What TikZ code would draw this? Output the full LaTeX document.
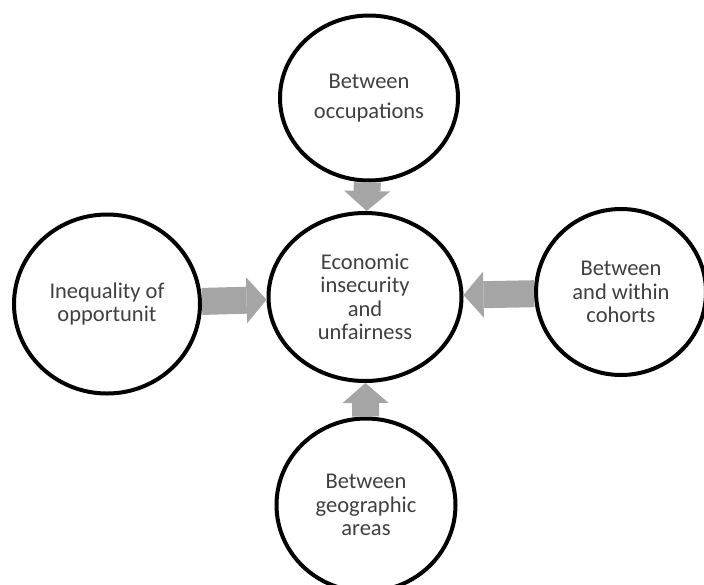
\documentclass[tikz,border=0pt]{standalone}
\usepackage{fontspec}
\setmainfont{Carlito}
\usetikzlibrary{shapes.geometric,arrows.meta}
\definecolor{arrowgray}{RGB}{165,165,165}
\definecolor{textgray}{RGB}{64,64,64}
\begin{document}
\begin{tikzpicture}[x=1pt,y=-1pt,
  bubble/.style={ellipse, draw, line width=4pt, fill=white, inner sep=0pt, align=center, text=textgray, font=\fontsize{22.5}{23.5}\selectfont},
  push/.style={draw=arrowgray, line width=27pt, -{Triangle[length=20pt,width=46pt,line width=0pt]}}]
\useasboundingbox (0,0) rectangle (704,584);
\node[bubble, minimum width=178pt, minimum height=165pt] (occ) at (369,98) {Between\\[7pt]occupations};
\node[bubble, minimum width=193pt, minimum height=168pt] (econ) at (365,297) {Economic\\insecurity\\and\\unfairness};
\node[bubble, minimum width=186pt, minimum height=179pt] (ineq) at (107,304) {Inequality of\\opportunit};
\node[bubble, minimum width=170pt, minimum height=166pt] (coh) at (621,292) {Between\\and within\\cohorts};
\node[bubble, minimum width=179pt, minimum height=173pt] (geo) at (366,505) {Between\\geographic\\areas};
\draw[push] (occ) -- (econ);
\draw[push] (ineq) -- (econ);
\draw[push] (coh) -- (econ);
\draw[push] (geo) -- (econ);
\end{tikzpicture}
\end{document}
